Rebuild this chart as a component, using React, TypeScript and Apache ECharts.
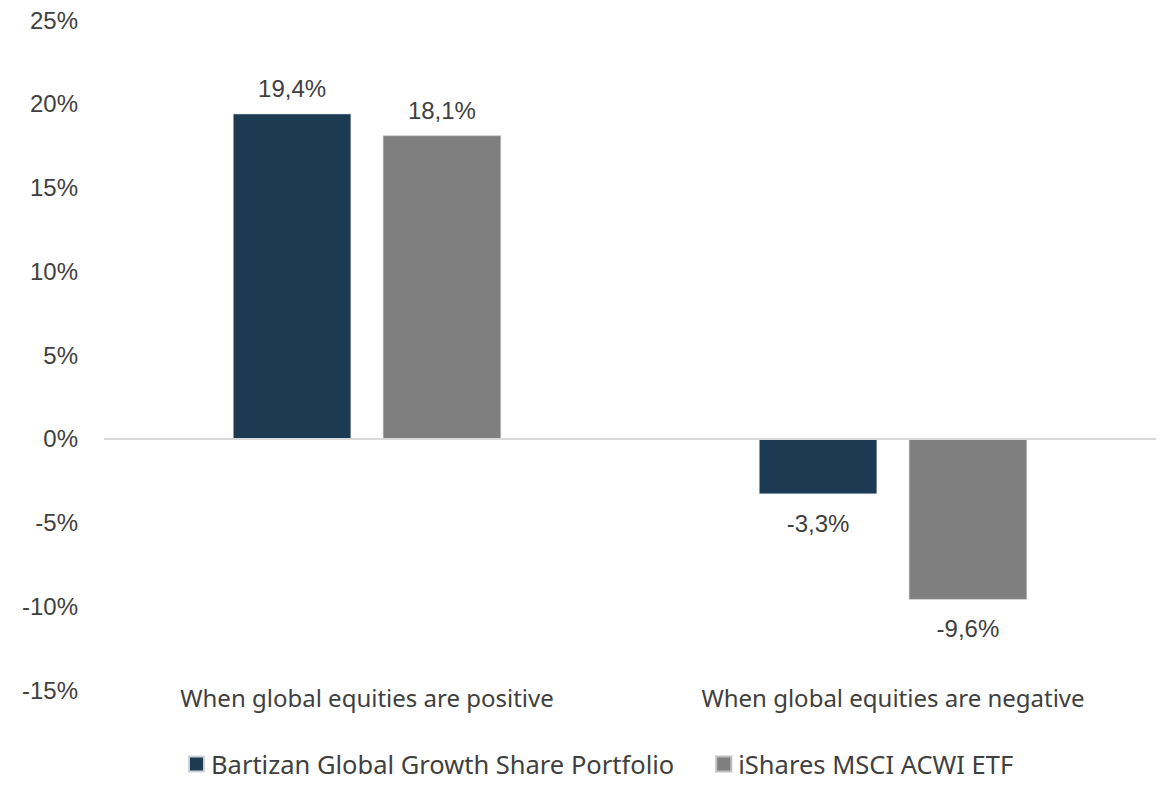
import React, { useEffect, useRef } from "react";
import * as echarts from "echarts";

const categories = ["When global equities are positive", "When global equities are negative"];
const seriesNames = ["Bartizan Global Growth Share Portfolio", "iShares MSCI ACWI ETF"];
const portfolioValues = [19.4, -3.3];
const etfValues = [18.1, -9.6];
const colors = ["#1d3a53", "#7f7f7f"];

export default function App() {
  const ref = useRef<HTMLDivElement>(null);
  useEffect(() => {
    const chart = echarts.init(ref.current!, null, { renderer: "svg" });
    const fmt = (p: any) => p.value.toFixed(1).replace(".", ",") + "%";
    const labelStyle = {
      show: true,
      formatter: fmt,
      color: "#404040",
      fontSize: 24,
      fontFamily: "Liberation Sans, Arial, sans-serif",
    };
    const mkData = (vals: number[]) =>
      vals.map((v) => ({
        value: v,
        label: { ...labelStyle, position: v >= 0 ? "top" : "bottom", distance: v >= 0 ? 13 : 17 },
      }));
    chart.setOption({
      animation: false,
      backgroundColor: "#ffffff",
      grid: { left: 96, right: 0, top: 7, bottom: 94, containLabel: false },
      legend: {
        top: 743,
        left: 180,
        padding: 0,
        itemWidth: 15,
        itemHeight: 15,
        itemGap: 41,
        icon: "rect",
        textStyle: { fontSize: 25.5, color: "#404040", fontFamily: "Noto Sans, sans-serif", padding: [0, 0, 0, 2] },
        data: seriesNames,
      },
      xAxis: {
        type: "category",
        data: categories,
        axisLine: { show: false },
        axisTick: { show: false },
        axisLabel: {
          color: "#404040",
          fontSize: 24,
          fontFamily: "Noto Sans, sans-serif",
          margin: 7,
          verticalAlign: "middle",
          lineHeight: 30,
        },
      },
      yAxis: {
        type: "value",
        min: -15,
        max: 25,
        interval: 5,
        axisLabel: {
          formatter: "{value}%",
          color: "#404040",
          fontSize: 24,
          fontFamily: "Liberation Sans, Arial, sans-serif",
          margin: 26,
        },
        splitLine: { show: false },
        axisLine: { show: false },
        axisTick: { show: false },
      },
      series: [
        {
          name: seriesNames[0],
          type: "bar",
          data: mkData(portfolioValues),
          barWidth: 118,
          barGap: "27%",
          itemStyle: { color: colors[0], borderColor: "#c9d3dc", borderWidth: 0.5 },
          markLine: {
            silent: true,
            symbol: "none",
            label: { show: false },
            lineStyle: { color: "#d9d9d9", width: 2, type: "solid" },
            data: [{ yAxis: 0 }],
          },
        },
        {
          name: seriesNames[1],
          type: "bar",
          data: mkData(etfValues),
          barWidth: 118,
          itemStyle: { color: colors[1], borderColor: "#bfbfbf", borderWidth: 0.5 },
        },
      ],
    });
    return () => chart.dispose();
  }, []);
  return <div ref={ref} style={{ width: 1148, height: 776 }} />;
}
